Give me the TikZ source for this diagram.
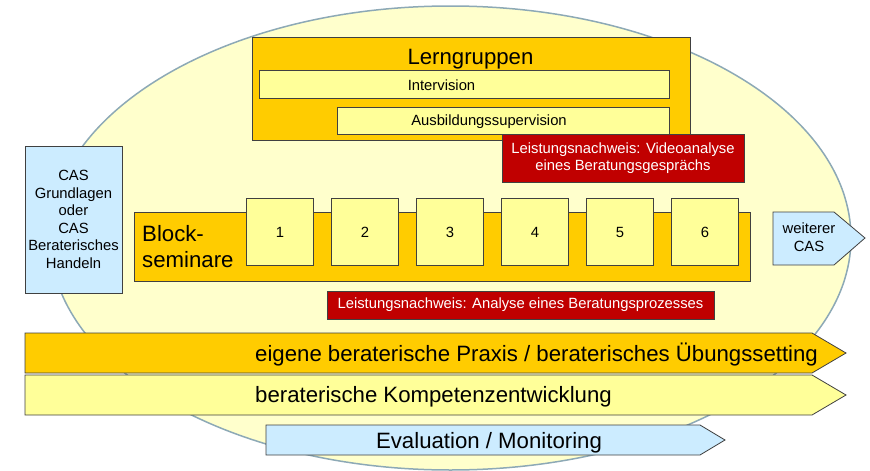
\documentclass[tikz,border=0pt]{standalone}
\usepackage{fontspec}
\setmainfont{Liberation Sans}
\definecolor{gold}{HTML}{FFCC00}
\definecolor{paleyellow}{HTML}{FFFF99}
\definecolor{cream}{HTML}{FFFFCC}
\definecolor{skyblue}{HTML}{CCECFF}
\definecolor{darkred}{HTML}{C00000}
\definecolor{rim}{HTML}{8DA9B6}
\newcommand{\txtbig}{\fontsize{22.2}{26}\selectfont}
\newcommand{\txtsmall}{\fontsize{14.8}{17.6}\selectfont}
\tikzset{
  box/.style={draw=black!75, line width=0.8pt, inner sep=0pt},
  goldbox/.style={box, fill=gold},
  palebox/.style={box, fill=paleyellow, font=\txtsmall},
  bluebox/.style={box, fill=skyblue, font=\txtsmall, align=center},
  redbox/.style={box, fill=darkred, text=white, font=\txtsmall, align=center},
  label/.style={inner sep=0pt, anchor=base},
}
\begin{document}
\begin{tikzpicture}[x=1pt, y=-1pt]
\useasboundingbox (0,0) rectangle (870,471);
\draw [draw=rim, line width=1.5pt, fill=cream] (450.5,238) ellipse (400.5pt and 232pt);
\node (lern) [goldbox, minimum width=438, minimum height=103] at (471,88.5) {};
\node (lerntitle) [label, font=\txtbig] at (470.5,64) {Lerngruppen};
\node (inter) [palebox, minimum width=410, minimum height=28] at (464,84) {};
\node [label, font=\txtsmall] at (441.5,90) {Intervision};
\node (super) [palebox, minimum width=332, minimum height=27] at (503,120.5) {};
\node [label, font=\txtsmall] at (489,125.5) {Ausbildungssupervision};
\node (video) [redbox, minimum width=242, minimum height=48] at (623,158) {Leistungsnachweis: Videoanalyse\\eines Beratungsgesprächs};
\node (cas) [bluebox, minimum width=97, minimum height=147] at (73.5,219.5) {CAS\\Grundlagen\\oder\\CAS\\Beraterisches\\Handeln};
\node (block) [goldbox, minimum width=616, minimum height=69] at (442,246.5) {};
\node (blocktitle) [inner sep=0pt, anchor=west, align=left, font=\txtbig] at (142,246.5) {Block-\\seminare};
\node (s1) [palebox, minimum size=66.5] at (280,232) {1};
\node (s2) [palebox, minimum size=66.5] at (365,232) {2};
\node (s3) [palebox, minimum size=66.5] at (450,232) {3};
\node (s4) [palebox, minimum size=66.5] at (535,232) {4};
\node (s5) [palebox, minimum size=66.5] at (620,232) {5};
\node (s6) [palebox, minimum size=66.5] at (705,232) {6};
\draw [box, fill=skyblue] (773,212) -- (834,212) -- (865,238) -- (834,265) -- (773,265) -- cycle;
\node (next) [font=\txtsmall, align=center, inner sep=0pt] at (809,237) {weiterer\\CAS};
\node (process) [redbox, minimum width=387, minimum height=28] at (520.5,305) {Leistungsnachweis: Analyse eines Beratungsprozesses};
\draw [box, fill=gold] (25,333) -- (812,333) -- (846,353) -- (812,373) -- (25,373) -- cycle;
\node (praxis) [label, font=\txtbig, anchor=base west] at (255,361) {eigene beraterische Praxis / beraterisches Übungssetting};
\draw [box, fill=paleyellow] (25,375) -- (812,375) -- (846,395) -- (812,415) -- (25,415) -- cycle;
\node (kompetenz) [label, font=\txtbig, anchor=base west] at (255,402) {beraterische Kompetenzentwicklung};
\draw [box, fill=skyblue] (266,425) -- (700,425) -- (725,440) -- (700,455) -- (266,455) -- cycle;
\node (eval) [label, font=\txtbig] at (489,448) {Evaluation / Monitoring};
\end{tikzpicture}
\end{document}
